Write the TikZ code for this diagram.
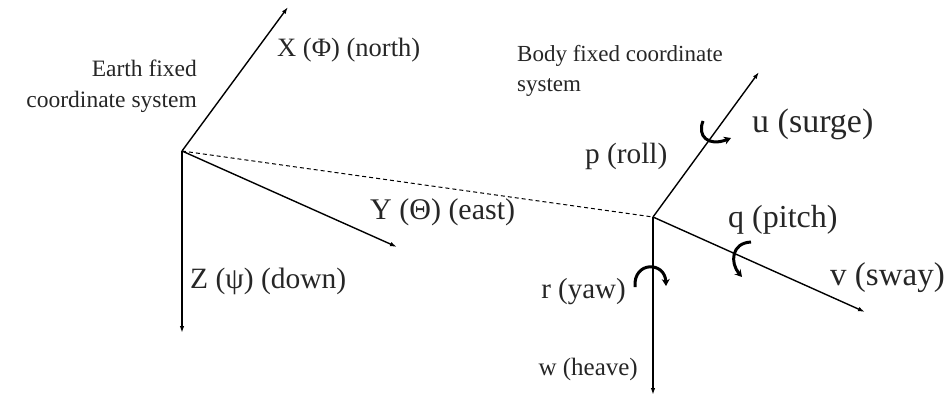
\documentclass[tikz,border=0pt]{standalone}
\usepackage{fontspec}
\setmainfont{Liberation Serif}
\usetikzlibrary{arrows.meta}
\tikzset{
  axis/.style={line width=1.4pt, -{Latex[length=7pt,width=4.5pt]}},
  rotarrow/.style={line width=3pt, -{Stealth[length=7pt,width=8pt]}},
  lbl/.style={inner sep=0pt, text=black!85},
}
\newcommand{\fsz}[1]{\fontsize{#1}{#1}\selectfont}
\begin{document}
\begin{tikzpicture}[x=1pt,y=-1pt]
\useasboundingbox (0,0) rectangle (952,401);
% origins and axis tips
\coordinate (E) at (182,151);
\coordinate (B) at (653,217);
\coordinate (Xt) at (288,7);
\coordinate (Yt) at (397,247);
\coordinate (Zt) at (182,333);
\coordinate (Ut) at (759,72);
\coordinate (Vt) at (865,312);
\coordinate (Wt) at (653,395);
% earth axes
\draw[axis] (E) -- (Xt);
\draw[axis] (E) -- (Yt);
\draw[axis] (E) -- (Zt);
% body axes
\draw[axis] (B) -- (Ut);
\draw[axis] (B) -- (Vt);
\draw[axis] (B) -- (Wt);
% dashed link
\draw[line width=1pt, dash pattern=on 4pt off 3pt] (E) -- (B);
% rotation arrows
\draw[rotarrow] (703,121) .. controls (697,136) and (708,147) .. (731,138);
\draw[rotarrow] (751,242) .. controls (731,243) and (730,263) .. (742,277);
\draw[rotarrow] (635,287) .. controls (633,261) and (665,261) .. (666,286);
% labels
\node[lbl, anchor=base east, font=\fsz{23.5}] (le1) at (197,77) {Earth fixed};
\node[lbl, anchor=base east, font=\fsz{23.5}] (le2) at (197,107) {coordinate system};
\node[lbl, anchor=base west, font=\fsz{26.5}] (lx) at (277,57) {X (Φ) (north)};
\node[lbl, anchor=base west, font=\fsz{30}] (ly) at (370,219) {Y (Θ) (east)};
\node[lbl, anchor=base west, font=\fsz{29.5}] (lz) at (190,288) {Z (ψ) (down)};
\node[lbl, anchor=base west, font=\fsz{23}] (lb1) at (517,62) {Body fixed coordinate};
\node[lbl, anchor=base west, font=\fsz{23}] (lb2) at (517,92) {system};
\node[lbl, anchor=base west, font=\fsz{29.3}] (lp) at (585,163) {p (roll)};
\node[lbl, anchor=base west, font=\fsz{34}] (lu) at (752,132) {u (surge)};
\node[lbl, anchor=base west, font=\fsz{32}] (lq) at (728,227) {q (pitch)};
\node[lbl, anchor=base west, font=\fsz{33}] (lv) at (830,285) {v (sway)};
\node[lbl, anchor=base east, font=\fsz{29}] (lr) at (626,298) {r (yaw)};
\node[lbl, anchor=base east, font=\fsz{25}] (lw) at (638,375) {w (heave)};
\end{tikzpicture}
\end{document}
